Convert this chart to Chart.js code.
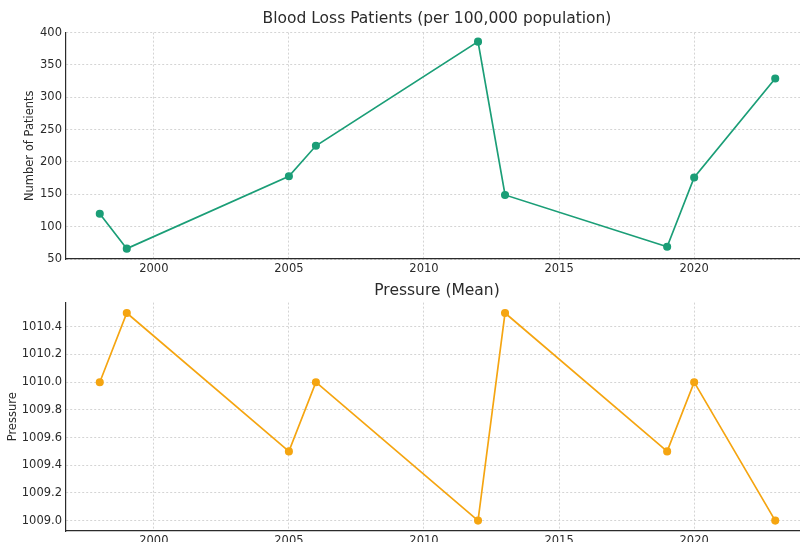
<!DOCTYPE html>
<html>
<head>
<meta charset="utf-8">
<script src="https://cdn.jsdelivr.net/npm/chart.js@4.4.1/dist/chart.umd.min.js"></script>
<style>
  html, body { margin: 0; padding: 0; background: #fff; overflow: hidden; width: 800px; height: 542px; }
  .caja { position: absolute; left: 0; width: 874px; }
  #caja1 { top: 0; height: 285px; }
  #caja2 { top: 270px; height: 290px; }
</style>
</head>
<body>
<div class="caja" id="caja1"><canvas id="grafico1"></canvas></div>
<div class="caja" id="caja2"><canvas id="grafico2"></canvas></div>
<script>
const anios = [1998, 1999, 2005, 2006, 2012, 2013, 2019, 2020, 2023];
const pacientes = [120, 66, 178, 225, 386, 149, 69, 176, 329];
const presion = [1010.0, 1010.5, 1009.5, 1010.0, 1009.0, 1010.5, 1009.5, 1010.0, 1009.0];
const ticksAnios = [2000, 2005, 2010, 2015, 2020];
const ticksPacientes = [50, 100, 150, 200, 250, 300, 350, 400];
const ticksPresion = [1009.0, 1009.2, 1009.4, 1009.6, 1009.8, 1010.0, 1010.2, 1010.4];

const fuente = "'DejaVu Sans', sans-serif";
const gris = '#2b2b2b';

function puntos(valores) {
  return anios.map((a, i) => ({ x: a, y: valores[i] }));
}

function fijarTicks(lista) {
  return scale => { scale.ticks = lista.map(v => ({ value: v })); };
}

function crearGrafico(id, cfg) {
  return new Chart(document.querySelector(id), {
    type: 'line',
    data: {
      datasets: [{
        data: puntos(cfg.valores),
        borderColor: cfg.color,
        backgroundColor: cfg.color,
        borderWidth: 1.7,
        pointRadius: 3.2,
        pointHoverRadius: 3.2,
        tension: 0
      }]
    },
    options: {
      responsive: true,
      maintainAspectRatio: false,
      animation: false,
      layout: { padding: 0 },
      plugins: {
        legend: { display: false },
        tooltip: { enabled: false },
        title: {
          display: true,
          text: cfg.titulo,
          color: gris,
          font: { family: fuente, size: 15.5, weight: 'normal' },
          padding: cfg.paddingTitulo
        }
      },
      scales: {
        x: {
          type: 'linear',
          min: 1996.75,
          max: 2024.25,
          afterBuildTicks: fijarTicks(ticksAnios),
          afterFit: s => { s.height = cfg.altoX; },
          ticks: {
            color: gris,
            padding: 3,
            maxRotation: 0,
            font: { family: fuente, size: 11.5 },
            callback: v => String(v)
          },
          grid: { color: '#d0d0d0', lineWidth: 0.9, drawTicks: false },
          border: { display: true, color: gris, width: 1.2, dash: [2, 2] }
        },
        y: {
          min: cfg.min,
          max: cfg.max,
          afterBuildTicks: fijarTicks(cfg.ticks),
          afterFit: s => { s.width = 66; },
          ticks: {
            color: gris,
            padding: 4,
            font: { family: fuente, size: 11.5 },
            callback: cfg.formato
          },
          title: {
            display: true,
            text: cfg.etiquetaY,
            color: gris,
            font: { family: fuente, size: 11.5 },
            padding: { top: cfg.padY, bottom: 0 }
          },
          grid: { color: '#d0d0d0', lineWidth: 0.9, drawTicks: false },
          border: { display: true, color: gris, width: 1.2, dash: [2, 2] }
        },
        // eje vacio a la derecha, solo para reservar el margen que sale del cuadro
        margen: {
          type: 'linear',
          position: 'right',
          afterFit: s => { s.width = 65; },
          ticks: { display: false },
          grid: { display: false, drawTicks: false },
          border: { display: false }
        }
      }
    }
  });
}

document.addEventListener("DOMContentLoaded", () => {
  crearGrafico('#grafico1', {
    valores: pacientes,
    color: '#1b9e77',
    titulo: 'Blood Loss Patients (per 100,000 population)',
    paddingTitulo: { top: 10, bottom: 4 },
    altoX: 26,
    min: 50,
    max: 400,
    ticks: ticksPacientes,
    formato: v => String(v),
    etiquetaY: 'Number of Patients',
    padY: 23
  });

  crearGrafico('#grafico2', {
    valores: presion,
    color: '#f5a511',
    titulo: 'Pressure (Mean)',
    paddingTitulo: { top: 12, bottom: 2 },
    altoX: 29,
    min: 1008.925,
    max: 1010.575,
    ticks: ticksPresion,
    formato: v => Number(v).toFixed(1),
    etiquetaY: 'Pressure',
    padY: 6
  });
});
</script>
</body>
</html>
